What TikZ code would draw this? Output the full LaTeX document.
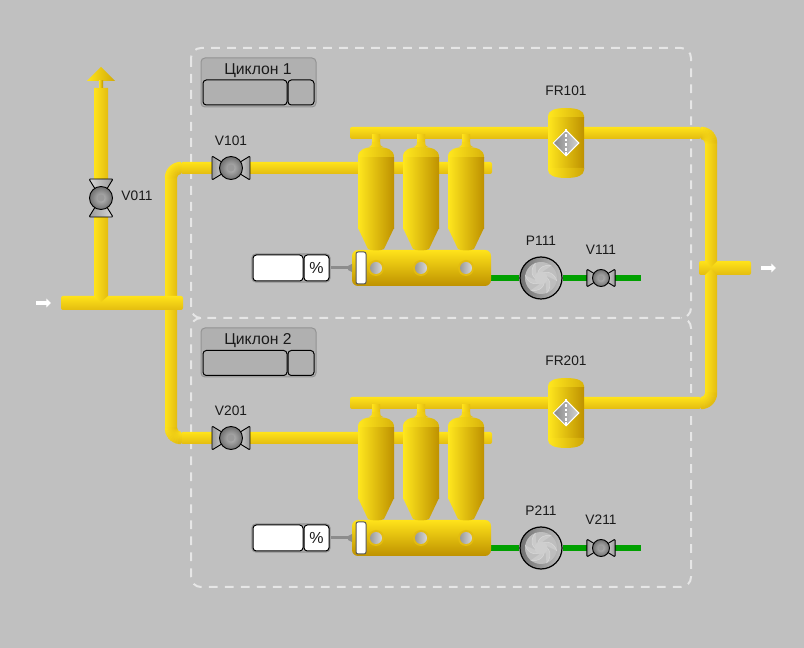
\documentclass[tikz,border=0pt]{standalone}
\usepackage{fontspec}
\setmainfont{Liberation Sans}
\usetikzlibrary{calc,shapes.geometric,arrows.meta,backgrounds}
\definecolor{bgc}{HTML}{C0C0C0}
\definecolor{ptop}{HTML}{FFE31A}
\definecolor{pbot}{HTML}{E3BC10}
\definecolor{tkl}{HTML}{FFE71E}
\definecolor{tkr}{HTML}{BE9100}
\definecolor{tkm}{HTML}{ECC80F}
\definecolor{dsh}{HTML}{E6E6E6}
\definecolor{grn}{HTML}{00A000}
\definecolor{txt}{HTML}{1A1A1A}
\definecolor{pan}{HTML}{B0B0B0}
\definecolor{g1}{HTML}{707070}
\definecolor{g2}{HTML}{D8D8D8}
\definecolor{g3}{HTML}{BEBEBE}
\definecolor{g4}{HTML}{9A9A9A}
\def\px{0.75pt}
\tikzset{
  x=0.75pt,y=-0.75pt,
  lbl/.style={font=\fontsize{10.3}{12}\selectfont,text=txt,inner sep=0pt},
  title/.style={font=\fontsize{11.8}{14}\selectfont,text=txt,inner sep=0pt},
  zone/.style={draw=dsh,line width=1.5pt,rounded corners=7.5pt,dash pattern=on 6.6pt off 5.4pt},
  panelbox/.style={draw=gray!85,fill=pan,line width=.75pt,rounded corners=3pt,minimum width=115*\px,minimum height=49*\px,inner sep=0pt},
  cell/.style={draw=black,line width=.75pt,rounded corners=2.5pt,minimum height=25*\px,inner sep=0pt},
  dispbox/.style={draw=gray!85,fill=gray!60,line width=.9pt,rounded corners=3pt,minimum width=78*\px,minimum height=28*\px,inner sep=0pt},
  dcell/.style={draw=black,fill=white,line width=.75pt,rounded corners=2.5pt,minimum height=26*\px,inner sep=0pt,text=txt,font=\fontsize{12}{14}\selectfont},
  slot/.style={draw=black!65,fill=white,line width=.75pt,rounded corners=1.5pt,minimum width=10*\px,minimum height=32*\px,inner sep=0pt},
  hole/.style={circle,draw=none,left color=g4,right color=g2,minimum size=12*\px,inner sep=0pt},
  holering/.style={circle,fill=pbot,minimum size=16*\px,inner sep=0pt},
  bow/.style={draw=black,line width=.7pt,rounded corners=.8pt},
  greenpipe/.style={draw=grn,line width=6*\px},
  gauge/.style={draw=gray!90,line width=3*\px},
  wharrow/.style={draw=white,line width=3pt,-{Triangle[width=6.5pt,length=3.5pt]}},
  filt/.style={diamond,aspect=1,draw=white,line width=.75pt,left color=gray!95,right color=gray!35,minimum width=26*\px,minimum height=26*\px,inner sep=0pt},
}
\newcommand\hpipe[3]{\shade[top color=ptop,bottom color=pbot,rounded corners=1.5pt] ($(#1)+(0,-#3)$) rectangle ($(#2)+(0,#3)$);}
\newcommand\vpipeV[4]{\shade[left color=ptop,right color=pbot] ($(#1)+(-#3,0)$) -- ($(#2)+(-#3,0)$) -- ($(#2)+(0,#4)$) -- ($(#2)+(#3,0)$) -- ($(#1)+(#3,0)$) -- cycle;}
\newcommand\elbowband[5]{\foreach \i in {0,...,11}{\pgfmathsetmacro\p{#5==1?\i/11*100:100-\i/11*100}
  \draw[ptop!\p!pbot,line width=1.4*\px] plot[domain=#3:#4,samples=16] ({#1+(4.5+\i)*cos(\x)},{#2+(4.5+\i)*sin(\x)});}}
\newcommand\elbowmix[4]{\foreach \i in {0,...,11}{\foreach \j in {0,...,8}{
  \pgfmathsetmacro\ss{\i/11}\pgfmathsetmacro\tt{\j/8}
  \pgfmathsetmacro\p{100*(\ss*(1-\tt)+(1-\ss)*\tt)}
  \pgfmathsetmacro\aa{#3+(#4-#3)*\j/9}\pgfmathsetmacro\ab{#3+(#4-#3)*(\j+1)/9}
  \pgfmathsetmacro\ra{4+\i}\pgfmathsetmacro\rb{5+\i}
  \path[fill=ptop!\p!pbot,draw=ptop!\p!pbot,line width=.3pt] ({#1+\ra*cos(\aa)},{#2+\ra*sin(\aa)}) -- ({#1+\rb*cos(\aa)},{#2+\rb*sin(\aa)}) -- ({#1+\rb*cos(\ab)},{#2+\rb*sin(\ab)}) -- ({#1+\ra*cos(\ab)},{#2+\ra*sin(\ab)}) -- cycle;
}}}
\newcommand\cyclone[2]{\begin{scope}[shift={(#1,#2)}]
  \shade[left color=ptop,right color=pbot] (-4,-12) rectangle (4,1);
  \shade[left color=ptop,right color=pbot] (-4,-5) .. controls (-4,-2) .. (-7,0) -- (7,0) .. controls (4,-2) .. (4,-5) -- cycle;
  \shade[left color=tkl,right color=tkr!60!ptop] (-18,11.2) -- (-18,10) .. controls (-18,3) and (-12,0) .. (0,0) .. controls (12,0) and (18,3) .. (18,10) -- (18,11.2) -- cycle;
  \shade[left color=tkl,right color=tkr] (-18,11) rectangle (18,81.2);
  \shade[left color=tkl,right color=tkr] (-18,81) -- (18,81) -- (8,102) .. controls (5,104) and (-5,104) .. (-8,102) -- cycle;
\end{scope}}
\newcommand\filtertank[3]{\begin{scope}[shift={(#1,#2)}]
  \shade[left color=tkl,right color=tkr!60!ptop] (-18,-25) -- (-18,-27) .. controls (-18,-32) and (-12,-35) .. (0,-35) .. controls (12,-35) and (18,-32) .. (18,-27) -- (18,-25) -- cycle;
  \shade[left color=tkl,right color=tkr] (-18,-25.2) rectangle (18,25.2);
  \shade[left color=tkl,right color=tkr!75!ptop] (-18,25) -- (18,25) -- (18,27) .. controls (18,32) and (12,35) .. (0,35) .. controls (-12,35) and (-18,32) .. (-18,27) -- cycle;
\end{scope}
\node[filt] (#3) at (#1,#2) {};
\draw[white,line width=.8pt,dash pattern=on 2.2pt off 1.2pt] (#3.north) -- (#3.south);}
\newcommand\valve[6]{\begin{scope}[shift={(#2,#3)},rotate=#5,scale=#4]
  \shade[left color=g4,right color=g2] (-19,-12) -- (-6,-4) -- (-6,4) -- (-19,12) -- cycle;
  \draw[bow] (-19,-12) -- (-6,-4) -- (-6,4) -- (-19,12) -- cycle;
  \shade[left color=g2,right color=g4] (19,-12) -- (6,-4) -- (6,4) -- (19,12) -- cycle;
  \draw[bow] (19,-12) -- (6,-4) -- (6,4) -- (19,12) -- cycle;
\end{scope}
\node[circle,draw=black,line width=.7pt,inner color=g3,outer color=g1,minimum size=#6*\px,inner sep=0pt] (#1) at (#2,#3) {};
\fill[g4] (#1) circle (#6*0.16);}
\newcommand\pump[3]{\node[circle,draw=black,line width=.9pt,left color=g1,right color=g3,minimum size=42*\px,inner sep=0pt] (#1) at (#2,#3) {};
\begin{scope}[shift={(#2,#3)}]
  \fill[g3] (0,0) circle (16);
  \foreach \a in {0,60,...,300}{
    \fill[g3!55!g2] plot[domain=0:70,samples=8] ({(6+10*\x/70)*cos(\a+\x)},{(6+10*\x/70)*sin(\a+\x)}) -- ({6*cos(\a+40)},{6*sin(\a+40)}) -- cycle;
    \draw[g2,line width=.4pt] plot[domain=0:70,samples=8] ({(6+10*\x/70)*cos(\a+\x)},{(6+10*\x/70)*sin(\a+\x)});}
  \fill[g3!40!g2] (0,0) circle (6.5);
\end{scope}}
\newcommand\unit[2]{
  \pgfmathsetmacro\ca{268+#1}
  \coordinate (tap#2) at (352,\ca);
  \shade[top color=ptop,middle color=tkm,bottom color=tkr,rounded corners=4.5pt] (352,\ca-18) rectangle (491,\ca+18);
  \foreach \cx in {376,421,466}{\pgfmathsetmacro\cy{147+#1}\cyclone{\cx}{\cy}}
  \foreach \cx/\m in {376/a,421/b,466/c}{\node[holering] at (\cx,\ca) {};\node[hole] (hole#2\m) at (\cx,\ca) {};}
  \node[slot] (slot#2) at (361,\ca) {};
  \node[dispbox] (disp#2) at (291,\ca) {};
  \node[dcell,minimum width=50*\px] (val#2) at (278,\ca) {};
  \node[dcell,minimum width=25*\px] (unit#2) at (316.5,\ca) {\%};
  \draw[gauge] (disp#2.east) -- (tap#2);
  \fill[gray!90] (348,\ca-2) -- (352,\ca-4) -- (352,\ca+4) -- (348,\ca+2) -- cycle;
}
\begin{document}
\begin{tikzpicture}
\useasboundingbox (0,0) rectangle (804,648);
\begin{scope}[on background layer]
  \fill[bgc] (0,0) rectangle (804,648);
\end{scope}
% zones
\draw[zone] (191,48) rectangle (691,318);
\draw[zone] (201,318) -- (191,318) -- (191,587) -- (691,587) -- (691,318) -- (681,318);
% panels
\node[panelbox] (panelA) at (258.5,82.5) {};
\node[title] (titleA) at (258,70.5) {Циклон 1};
\node[cell,fill=pan,minimum width=84*\px] (cellA1) at (245,92.5) {};
\node[cell,fill=pan,minimum width=26*\px] (cellA2) at (301,92.5) {};
\node[panelbox] (panelB) at (258.5,352.5) {};
\node[title] (titleB) at (258,340.5) {Циклон 2};
\node[cell,fill=pan,minimum width=84*\px] (cellB1) at (245,363) {};
\node[cell,fill=pan,minimum width=26*\px] (cellB2) at (301,363) {};
% pipe junction points
\coordinate (inL) at (61,303);   \coordinate (inR) at (183,303);
\coordinate (ventT) at (101,88); \coordinate (ventB) at (101,296);
\coordinate (ltA) at (171,178);  \coordinate (ltB) at (171,296);
\coordinate (lbA) at (171,310);  \coordinate (lbB) at (171,428);
\coordinate (h1L) at (181,168);  \coordinate (h1R) at (492,168);
\coordinate (h2L) at (181,438);  \coordinate (h2R) at (492,438);
\coordinate (t1L) at (350,133);  \coordinate (t1R) at (701,133);
\coordinate (t2L) at (350,403);  \coordinate (t2R) at (701,403);
\coordinate (rtA) at (711,143);  \coordinate (rtB) at (711,261);
\coordinate (rbA) at (711,393);  \coordinate (rbB) at (711,275);
\coordinate (outL) at (699,268); \coordinate (outR) at (751,268);
% pipes
\hpipe{outL}{outR}{7}
\vpipeV{rtA}{rtB}{6}{6}
\vpipeV{rbA}{rbB}{6}{-6}
\hpipe{h1L}{h1R}{6}
\hpipe{h2L}{h2R}{6}
\hpipe{t1L}{t1R}{6}
\hpipe{t2L}{t2R}{6}
\vpipeV{ltA}{ltB}{6}{6}
\vpipeV{lbB}{lbA}{6}{-6}
\hpipe{inL}{inR}{7}
\vpipeV{ventT}{ventB}{7}{6}
\elbowband{181}{178}{180}{270}{1}
\elbowmix{181}{428}{180}{90}
\elbowmix{701}{143}{270}{360}
\elbowband{701}{393}{0}{90}{2}
% vent head
\shade[left color=ptop,right color=tkr!70!ptop] (101,67) -- (115,81) -- (87,81) -- cycle;
\shade[left color=ptop,right color=tkr] (99,81) rectangle (103,88);
% units
\unit{0}{1}
\unit{270}{2}
% filters
\filtertank{566}{143}{FR101}
\filtertank{566}{413}{FR201}
% pumps and valves
\pump{P111}{541}{278}
\pump{P211}{541}{548}
\valve{V111}{601}{278}{0.74}{0}{17}
\valve{V211}{601}{548}{0.74}{0}{17}
\valve{V101}{231}{168}{1}{0}{23}
\valve{V201}{231}{438}{1}{0}{23}
\valve{V011}{101}{198}{1}{90}{23}
\coordinate (g1E) at (641,278);
\coordinate (g2E) at (641,548);
\coordinate (c1E) at (490,278);
\coordinate (c2E) at (490,548);
\begin{scope}[on background layer]
  \draw[greenpipe] (c1E) -- (P111) -- (V111) -- (g1E);
  \draw[greenpipe] (c2E) -- (P211) -- (V211) -- (g2E);
\end{scope}
% flow arrows
\coordinate (a1) at (36,303); \coordinate (a2) at (51,303);
\coordinate (b1) at (761,268); \coordinate (b2) at (776,268);
\draw[wharrow] (a1) -- (a2);
\draw[wharrow] (b1) -- (b2);
% labels
\node[lbl] (lV011) at (137,196) {V011};
\node[lbl] (lV101) at (231,141) {V101};
\node[lbl] (lV201) at (231,411) {V201};
\node[lbl] (lFR1) at (566,91) {FR101};
\node[lbl] (lFR2) at (566,361) {FR201};
\node[lbl] (lP1) at (541,241) {P111};
\node[lbl] (lP2) at (541,511) {P211};
\node[lbl] (lV1) at (601,250) {V111};
\node[lbl] (lV2) at (601,520) {V211};
\end{tikzpicture}
\end{document}
